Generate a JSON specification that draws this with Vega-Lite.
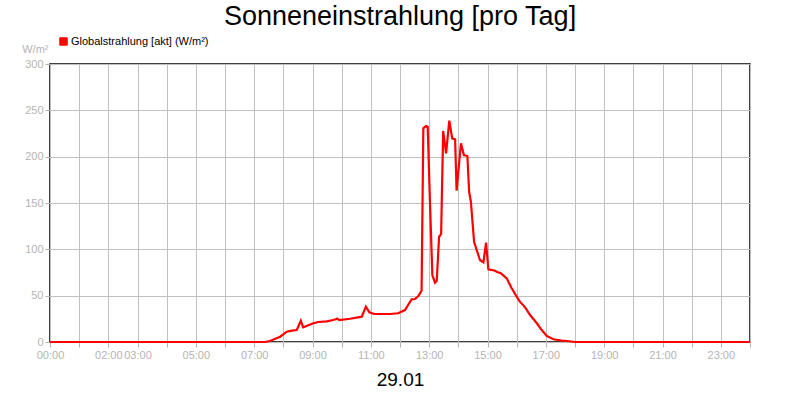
{
  "$schema": "https://vega.github.io/schema/vega-lite/v6.json",
  "width": 700,
  "height": 278,
  "autosize": {"type": "none"},
  "padding": {"left": 50, "top": 64, "right": 50, "bottom": 58},
  "background": "white",
  "title": {
    "text": "Sonneneinstrahlung [pro Tag]",
    "font": "Liberation Sans",
    "fontSize": 27,
    "fontWeight": "normal",
    "color": "black",
    "anchor": "middle",
    "frame": "group",
    "baseline": "alphabetic",
    "offset": 7,
    "dy": 23
  },
  "data": {
    "values": [
      {"hour": 0, "value": 0},
      {"hour": 7.37, "value": 0},
      {"hour": 7.54, "value": 1.1},
      {"hour": 7.89, "value": 5.7},
      {"hour": 8.12, "value": 11.1},
      {"hour": 8.29, "value": 12.2},
      {"hour": 8.46, "value": 12.9},
      {"hour": 8.6, "value": 23.0},
      {"hour": 8.68, "value": 15.9},
      {"hour": 9.03, "value": 20.2},
      {"hour": 9.2, "value": 21.6},
      {"hour": 9.49, "value": 22.3},
      {"hour": 9.71, "value": 23.7},
      {"hour": 9.85, "value": 25.1},
      {"hour": 9.92, "value": 23.7},
      {"hour": 10.29, "value": 25.1},
      {"hour": 10.69, "value": 27.3},
      {"hour": 10.83, "value": 38.1},
      {"hour": 10.95, "value": 32.0},
      {"hour": 11.11, "value": 30.2},
      {"hour": 11.66, "value": 30.2},
      {"hour": 11.94, "value": 31.0},
      {"hour": 12.17, "value": 34.5},
      {"hour": 12.4, "value": 46.1},
      {"hour": 12.51, "value": 46.4},
      {"hour": 12.63, "value": 49.6},
      {"hour": 12.74, "value": 55.4},
      {"hour": 12.8, "value": 230.6},
      {"hour": 12.89, "value": 233.1},
      {"hour": 12.95, "value": 232.3},
      {"hour": 13.03, "value": 148.0},
      {"hour": 13.11, "value": 72.0},
      {"hour": 13.2, "value": 64.0},
      {"hour": 13.26, "value": 66.0},
      {"hour": 13.34, "value": 113.6},
      {"hour": 13.41, "value": 116.5},
      {"hour": 13.48, "value": 227.7},
      {"hour": 13.58, "value": 203.6},
      {"hour": 13.69, "value": 238.8},
      {"hour": 13.79, "value": 219.8},
      {"hour": 13.89, "value": 218.7},
      {"hour": 13.94, "value": 163.3},
      {"hour": 14.09, "value": 214.4},
      {"hour": 14.19, "value": 201.8},
      {"hour": 14.31, "value": 200.7},
      {"hour": 14.37, "value": 162.2},
      {"hour": 14.43, "value": 151.4},
      {"hour": 14.54, "value": 108.2},
      {"hour": 14.65, "value": 97.4},
      {"hour": 14.74, "value": 88.5},
      {"hour": 14.86, "value": 86.0},
      {"hour": 14.95, "value": 107.2},
      {"hour": 15.03, "value": 78.4},
      {"hour": 15.26, "value": 76.9},
      {"hour": 15.33, "value": 75.5},
      {"hour": 15.46, "value": 74.1},
      {"hour": 15.66, "value": 68.7},
      {"hour": 15.83, "value": 57.9},
      {"hour": 16.0, "value": 48.9},
      {"hour": 16.11, "value": 43.5},
      {"hour": 16.29, "value": 37.4},
      {"hour": 16.46, "value": 29.1},
      {"hour": 16.69, "value": 20.2},
      {"hour": 16.86, "value": 12.9},
      {"hour": 17.03, "value": 6.5},
      {"hour": 17.26, "value": 2.9},
      {"hour": 17.54, "value": 1.4},
      {"hour": 17.72, "value": 1.1},
      {"hour": 18.0, "value": 0},
      {"hour": 24, "value": 0}
    ]
  },
  "mark": {"type": "line", "strokeWidth": 2.2, "interpolate": "linear"},
  "encoding": {
    "x": {
      "field": "hour",
      "type": "quantitative",
      "scale": {"domain": [0, 24], "nice": false, "zero": false},
      "axis": {
        "values": [0, 1, 2, 3, 4, 5, 6, 7, 8, 9, 10, 11, 12, 13, 14, 15, 16, 17, 18, 19, 20, 21, 22, 23, 24],
        "labelExpr": "indexof([0, 2, 3, 5, 7, 9, 11, 13, 15, 17, 19, 21, 23], datum.value) >= 0 ? (datum.value < 10 ? '0' : '') + datum.value + ':00' : ''",
        "title": "29.01",
        "titleFont": "Liberation Sans",
        "titleFontSize": 19,
        "titleFontWeight": "normal",
        "titleColor": "black",
        "titlePadding": 10,
        "domain": false,
        "grid": true,
        "gridColor": "#c0c0c0",
        "gridWidth": 1,
        "gridOpacity": 1,
        "tickColor": "#b4b4b4",
        "tickSize": 5,
        "labelFont": "Liberation Sans",
        "labelFontSize": 11,
        "labelColor": "#b4b4b4",
        "labelPadding": 2,
        "labelFlush": false,
        "labelOverlap": false
      }
    },
    "y": {
      "field": "value",
      "type": "quantitative",
      "scale": {"domain": [0, 300], "nice": false},
      "axis": {
        "values": [0, 50, 100, 150, 200, 250, 300],
        "title": "W/m²",
        "titleAngle": 0,
        "titleAlign": "right",
        "titleBaseline": "alphabetic",
        "titleX": -2,
        "titleY": -12,
        "titleFont": "Liberation Sans",
        "titleFontSize": 11,
        "titleFontWeight": "normal",
        "titleColor": "#b4b4b4",
        "domain": false,
        "grid": true,
        "gridColor": "#c0c0c0",
        "gridWidth": 1,
        "gridOpacity": 1,
        "tickColor": "#b4b4b4",
        "tickSize": 5,
        "labelFont": "Liberation Sans",
        "labelFontSize": 11,
        "labelColor": "#b4b4b4",
        "labelPadding": 2
      }
    },
    "color": {
      "datum": "Globalstrahlung [akt] (W/m²)",
      "type": "nominal",
      "scale": {"range": ["#ff0000"]},
      "legend": {
        "title": null,
        "orient": "none",
        "legendX": 8,
        "legendY": -28,
        "symbolType": "square",
        "symbolSize": 55,
        "symbolFillColor": "#ff0000",
        "symbolStrokeColor": "black",
        "symbolStrokeWidth": 1,
        "labelFont": "Liberation Sans",
        "labelFontSize": 11,
        "labelColor": "black",
        "labelOffset": 2
      }
    }
  },
  "config": {
    "view": {"stroke": "black", "strokeWidth": 1.5}
  }
}
